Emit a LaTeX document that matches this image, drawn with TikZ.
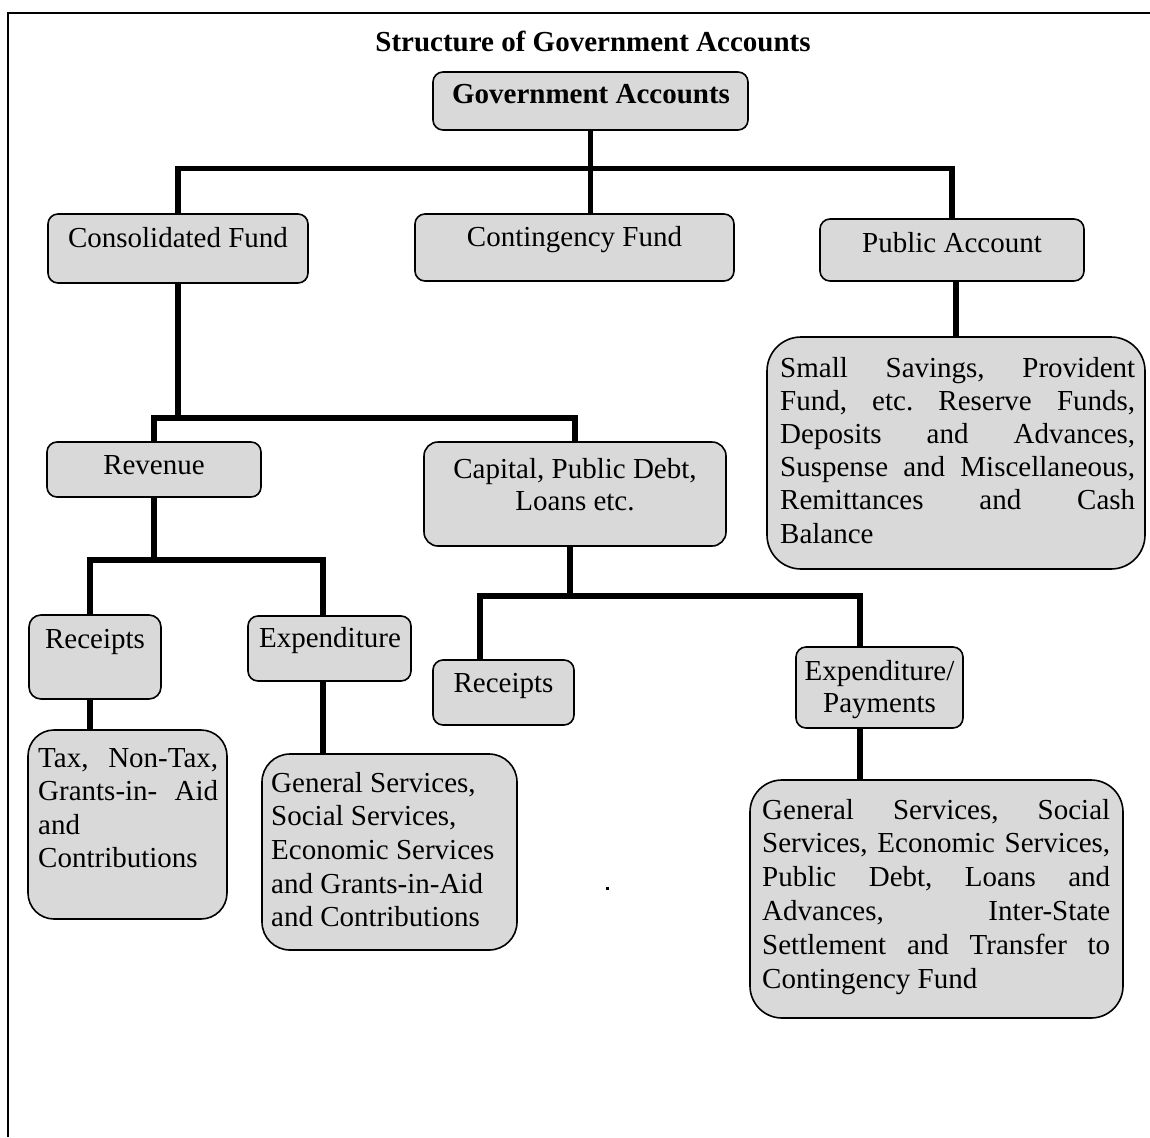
\documentclass[tikz,border=0pt]{standalone}
\usepackage{fontspec}
\setmainfont{Liberation Serif}
\frenchspacing
\definecolor{boxgray}{RGB}{217,217,217}
\begin{document}
\begin{tikzpicture}[x=1pt,y=-1pt,
  box/.style={draw=black, line width=1.6pt, fill=boxgray, inner sep=0pt, rounded corners=10pt},
  conn/.style={line width=5.5pt, line join=miter},
  txt/.style={inner sep=0pt, anchor=base west, font=\fontsize{29}{33.5}\selectfont},
  ctxt/.style={txt, anchor=base}]
\useasboundingbox (0,0) rectangle (1150,1137);
% frame
\draw[line width=2pt] (8,1137) -- (8,13) -- (1150,13);
% title
\node[ctxt, font=\fontsize{29}{33.5}\selectfont\bfseries] (title) at (593,52) {Structure of Government Accounts};
% boxes
\node[box, minimum width=315pt, minimum height=58pt] (gov) at (590.5,101) {};
\node[box, minimum width=260pt, minimum height=69pt] (cons) at (178,248.5) {};
\node[box, minimum width=319pt, minimum height=67pt] (cont) at (574.5,247.5) {};
\node[box, minimum width=264pt, minimum height=62pt] (pub) at (952,250) {};
\node[box, rounded corners=34pt, minimum width=378pt, minimum height=232pt] (ss) at (956,453) {};
\node[box, minimum width=214pt, minimum height=55pt] (rev) at (154,469.5) {};
\node[box, rounded corners=14pt, minimum width=302pt, minimum height=104pt] (cap) at (575,494) {};
\node[box, rounded corners=12pt, minimum width=132pt, minimum height=84pt] (rec1) at (95,657) {};
\node[box, minimum width=163pt, minimum height=65pt] (exp1) at (329.5,648.5) {};
\node[box, minimum width=141pt, minimum height=65pt] (rec2) at (503.5,692.5) {};
\node[box, minimum width=167pt, minimum height=81pt] (expP) at (879.5,687.5) {};
\node[box, rounded corners=26pt, minimum width=199pt, minimum height=189pt] (tax) at (127.5,824.5) {};
\node[box, rounded corners=28pt, minimum width=255pt, minimum height=196pt] (gen) at (389.5,852) {};
\node[box, rounded corners=32pt, minimum width=373pt, minimum height=238pt] (big) at (936.5,899) {};
% texts
\node[ctxt, font=\fontsize{29}{33.5}\selectfont\bfseries] (tgov) at (591,103) {Government Accounts};
\node[ctxt] (tcons) at (178,247) {Consolidated Fund};
\node[ctxt] (tcont) at (574.5,246) {Contingency Fund};
\node[ctxt] (tpub) at (952,252) {Public Account};
\node[txt] (tss) at (780,377) {\vtop{\baselineskip=33.2pt
  \hbox to 355pt{Small Savings, Provident}
  \hbox to 355pt{Fund, etc. Reserve Funds,}
  \hbox to 355pt{Deposits and Advances,}
  \hbox to 355pt{Suspense and Miscellaneous,}
  \hbox to 355pt{Remittances and Cash}
  \hbox{Balance}}};
\node[ctxt] (trev) at (154,474) {Revenue};
\node[ctxt] (tcap) at (575,478) {\vtop{\baselineskip=32pt
  \hbox to 0pt{\hss Capital, Public Debt,\hss}
  \hbox to 0pt{\hss Loans etc.\hss}}};
\node[ctxt] (trec1) at (95,648) {Receipts};
\node[ctxt] (texp1) at (330,647) {Expenditure};
\node[ctxt] (trec2) at (503.5,692) {Receipts};
\node[ctxt] (texpP) at (879.5,680) {\vtop{\baselineskip=32.5pt
  \hbox to 0pt{\hss Expenditure/\hss}
  \hbox to 0pt{\hss Payments\hss}}};
\node[txt] (ttax) at (38,767) {\vtop{\baselineskip=33.5pt
  \hbox to 180pt{Tax, Non-Tax,}
  \hbox to 180pt{Grants-in- Aid}
  \hbox{and}
  \hbox{Contributions}}};
\node[txt] (tgen) at (271,792) {\vtop{\baselineskip=33.7pt
  \hbox{General Services,}
  \hbox{Social Services,}
  \hbox{Economic Services}
  \hbox{and Grants-in-Aid}
  \hbox{and Contributions}}};
\node[txt] (tbig) at (762,819) {\vtop{\baselineskip=33.8pt
  \hbox to 348pt{General Services, Social}
  \hbox to 348pt{Services, Economic Services,}
  \hbox to 348pt{Public Debt, Loans and}
  \hbox to 348pt{Advances, Inter-State}
  \hbox to 348pt{Settlement and Transfer to}
  \hbox{Contingency Fund}}};
% connectors
\coordinate (b1) at (590.5,168.5);
\draw[conn] (gov.south) -- (gov.south |- cont.north);
\draw[conn] (cons.north) |- (b1) -| (pub.north);
\draw[conn] ([xshift=4pt]pub.south) -- ([xshift=4pt]pub.south |- ss.north);
\coordinate (b2) at (178,418);
\draw[conn] (cons.south) -- (b2);
\draw[conn] (rev.north) |- (b2) -| (cap.north);
\coordinate (b3) at (154,560);
\draw[conn] (rev.south) -- (b3);
\draw[conn] ([xshift=-5pt]rec1.north) |- (b3) -| ([xshift=-6.5pt]exp1.north);
\coordinate (b4) at (570,596);
\draw[conn] ([xshift=-5pt]cap.south) -- (b4);
\draw[conn] ([xshift=-23.5pt]rec2.north) |- (b4) -| ([xshift=-19.5pt]expP.north);
\draw[conn] ([xshift=-5pt]rec1.south) -- ([xshift=-5pt]rec1.south |- tax.north);
\draw[conn] ([xshift=-6.5pt]exp1.south) -- ([xshift=-6.5pt]exp1.south |- gen.north);
\draw[conn] ([xshift=-19.5pt]expP.south) -- ([xshift=-19.5pt]expP.south |- big.north);
% stray dot
\fill (606,887) rectangle (609,890);
\end{tikzpicture}
\end{document}
